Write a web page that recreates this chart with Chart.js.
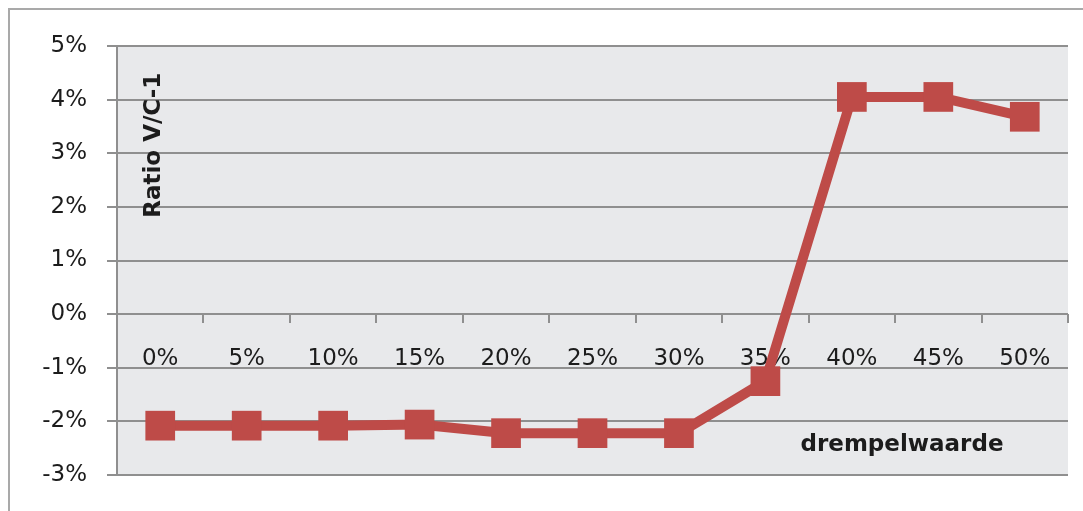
<!DOCTYPE html>
<html>
<head>
<meta charset="utf-8">
<script src="https://cdn.jsdelivr.net/npm/chart.js@4.4.0/dist/chart.umd.min.js"></script>
<style>
  html, body { margin: 0; padding: 0; background: #fff; }
  #wrap { width: 1083px; height: 511px; position: relative; }
</style>
</head>
<body>
<div id="wrap"><canvas id="ratioChart"></canvas></div>
<script>
// drempelwaarde (threshold) against ratio V/C-1, both in percent
const drempels = ['0%', '5%', '10%', '15%', '20%', '25%', '30%', '35%', '40%', '45%', '50%'];
const ratioValues = [-2.08, -2.08, -2.08, -2.06, -2.22, -2.22, -2.22, -1.25, 4.05, 4.05, 3.68];

const yMin = -3;
const yMax = 5;
const yStep = 1;

const lineColor = '#be4b48';
const gridColor = '#8f8f8f';
const textColor = '#1c1c1c';
const fontFamily = '"DejaVu Sans", sans-serif';

// grey plot area + the outer frame edges
const plotBackground = {
  id: 'plotBackground',
  beforeDraw(chart) {
    const { ctx, chartArea: a } = chart;
    ctx.save();
    ctx.strokeStyle = '#a9a9a9';
    ctx.lineWidth = 2;
    ctx.beginPath();
    ctx.moveTo(9, chart.height);
    ctx.lineTo(9, 9);
    ctx.lineTo(chart.width, 9);
    ctx.stroke();
    ctx.fillStyle = '#e8e9eb';
    ctx.fillRect(a.left, a.top, a.right - a.left, a.bottom - a.top);
    ctx.restore();
  }
};

// axis titles sit inside the plot area
const axisTitles = {
  id: 'axisTitles',
  afterDraw(chart) {
    const { ctx, chartArea: a } = chart;
    ctx.save();
    ctx.fillStyle = textColor;
    ctx.font = 'bold 23px ' + fontFamily;
    ctx.textAlign = 'center';
    ctx.textBaseline = 'middle';
    ctx.save();
    ctx.translate(a.left + 37, chart.scales.y.getPixelForValue(3.15));
    ctx.rotate(-Math.PI / 2);
    ctx.fillText('Ratio V/C-1', 0, 0);
    ctx.restore();
    ctx.fillText('drempelwaarde', chart.scales.x.getPixelForValue(8.58), chart.scales.y.getPixelForValue(-2.45));
    ctx.restore();
  }
};

const canvas = document.getElementById('ratioChart');
const chart = new Chart(canvas.getContext('2d'), {
  type: 'line',
  data: {
    labels: drempels,
    datasets: [{
      label: 'Ratio V/C-1',
      data: ratioValues,
      borderColor: lineColor,
      backgroundColor: lineColor,
      borderWidth: 10,
      tension: 0,
      pointStyle: 'rect',
      pointRadius: 21,
      pointBorderWidth: 0,
      pointBackgroundColor: lineColor
    }]
  },
  options: {
    responsive: true,
    maintainAspectRatio: false,
    animation: false,
    devicePixelRatio: 1,
    layout: {
      autoPadding: false,
      padding: { left: 0, top: 46, right: 15, bottom: 36 }
    },
    plugins: {
      legend: { display: false },
      tooltip: { enabled: false },
      title: { display: false }
    },
    scales: {
      x: {
        type: 'category',
        offset: true,
        position: { y: 0 },
        grid: {
          drawOnChartArea: false,
          drawTicks: true,
          tickLength: 9,
          color: gridColor,
          lineWidth: 2,
          offset: true
        },
        border: { display: false },
        ticks: {
          color: textColor,
          font: { family: fontFamily, size: 23 },
          padding: 22,
          maxRotation: 0,
          autoSkip: false
        },
        // labels sit inside the plot, no extra side room needed
        afterFit(scale) {
          scale.paddingLeft = 0;
          scale.paddingRight = 0;
        }
      },
      y: {
        min: yMin,
        max: yMax,
        grid: {
          color: gridColor,
          lineWidth: 2,
          tickLength: 10
        },
        border: { color: gridColor, width: 2 },
        ticks: {
          stepSize: yStep,
          color: textColor,
          font: { family: fontFamily, size: 23 },
          padding: 20,
          callback: (v) => v + '%'
        },
        afterFit(scale) { scale.width = 117; }
      }
    }
  },
  plugins: [plotBackground, axisTitles]
});
</script>
</body>
</html>
